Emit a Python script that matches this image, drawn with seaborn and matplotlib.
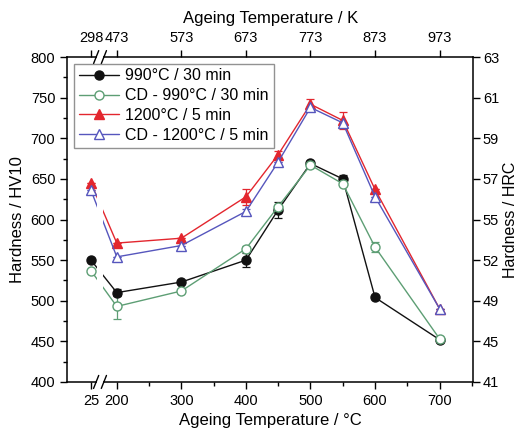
import numpy as np
import pandas as pd
import matplotlib
matplotlib.use('Agg')
import matplotlib.pyplot as plt
import seaborn as sns
from matplotlib.patches import Rectangle
from matplotlib.ticker import MultipleLocator, FixedLocator

# 数据: 时效温度 (°C) 与硬度 (HV10)
temps = [25, 200, 300, 400, 450, 500, 550, 600, 700]
hv_990 = [550, 510, 523, 550, 612, 669, 650, 504, 452]
hv_cd_990 = [537, 493, 512, 564, 616, 667, 644, 566, 453]
hv_1200 = [645, 571, 577, 628, 680, 742, 722, 637, 490]
hv_cd_1200 = [636, 554, 568, 610, 671, 738, 719, 628, 490]

# 误差
err_990 = [0, 4, 0, 9, 10, 3, 5, 0, 0]
err_cd_990 = [0, 15, 0, 3, 0, 3, 0, 6, 0]
err_1200 = [0, 0, 0, 10, 4, 6, 10, 0, 0]
err_cd_1200 = [0, 0, 0, 3, 0, 0, 0, 0, 0]

series_names = ['990°C / 30 min', 'CD - 990°C / 30 min',
                '1200°C / 5 min', 'CD - 1200°C / 5 min']

# 右轴 HRC 和上轴 K 的刻度标签
hv_ticks = [400, 450, 500, 550, 600, 650, 700, 750, 800]
hrc_labels = ['41', '45', '49', '52', '55', '57', '59', '61', '63']
k_temps = [25, 200, 300, 400, 500, 600, 700]
k_labels = ['298', '473', '573', '673', '773', '873', '973']

# 断轴: 25°C 画在 160 的位置
POS_25 = 160
BREAK_LO, BREAK_HI = 168, 180


def to_pos(t):
    return POS_25 if t == 25 else t


sns.set_style('ticks')
plt.rcParams['font.family'] = ['Liberation Sans', 'DejaVu Sans']
for key in ('text.color', 'axes.labelcolor', 'xtick.color', 'ytick.color'):
    plt.rcParams[key] = 'black'

rows = []
for name, vals, errs in zip(series_names, [hv_990, hv_cd_990, hv_1200, hv_cd_1200],
                            [err_990, err_cd_990, err_1200, err_cd_1200]):
    for t, v, e in zip(temps, vals, errs):
        rows.append({'pos': to_pos(t), 'hv': v, 'err': e, 'series': name})
df = pd.DataFrame(rows)

colors = {'990°C / 30 min': '#111111',
          'CD - 990°C / 30 min': '#5d9e74',
          '1200°C / 5 min': '#e3262e',
          'CD - 1200°C / 5 min': '#5656bd'}
markers = {'990°C / 30 min': 'o', 'CD - 990°C / 30 min': 'o',
           '1200°C / 5 min': '^', 'CD - 1200°C / 5 min': '^'}

fig = plt.figure(figsize=(5.2, 4.36), dpi=100)
ax = fig.add_axes([0.129, 0.124, 0.781, 0.745])

for name in series_names:
    sub = df[df['series'] == name]
    c = colors[name]
    hollow = name.startswith('CD')
    ax.errorbar(sub['pos'], sub['hv'], yerr=sub['err'], fmt='none',
                ecolor=c, elinewidth=0.9, capsize=3, capthick=0.9, zorder=2)
    sns.lineplot(data=sub, x='pos', y='hv', ax=ax, color=c, linewidth=1.0,
                 marker=markers[name], markersize=6.5,
                 markerfacecolor='white' if hollow else c,
                 markeredgecolor=c, markeredgewidth=1.0,
                 label=name, sort=False, zorder=3)

ax.set_xlim(123, 752)
ax.set_ylim(400, 800)
ax.xaxis.set_major_locator(FixedLocator([to_pos(t) for t in k_temps]))
ax.set_xticklabels([str(t) for t in [25, 200, 300, 400, 500, 600, 700]])
ax.xaxis.set_minor_locator(FixedLocator([250, 350, 450, 550, 650, 750]))
ax.yaxis.set_major_locator(MultipleLocator(50))
ax.yaxis.set_minor_locator(MultipleLocator(25))
ax.tick_params(which='major', direction='out', length=5, width=1, labelsize=10.5)
ax.tick_params(which='minor', direction='out', length=3, width=1)
ax.set_xlabel('Ageing Temperature / °C', fontsize=12)
ax.set_ylabel('Hardness / HV10', fontsize=12, labelpad=4)
for s in ax.spines.values():
    s.set_visible(True)
    s.set_linewidth(1.1)
    s.set_color('black')

# 上轴 (K)
ax_top = ax.twiny()
ax_top.set_xlim(ax.get_xlim())
ax_top.set_xticks([to_pos(t) for t in k_temps])
ax_top.set_xticklabels(k_labels)
ax_top.tick_params(direction='out', length=5, width=1, labelsize=10.5)
ax_top.set_xlabel('Ageing Temperature / K', fontsize=12, labelpad=6)

# 右轴 (HRC)
ax_right = ax.twinx()
ax_right.set_ylim(ax.get_ylim())
ax_right.set_yticks(hv_ticks)
ax_right.set_yticklabels(hrc_labels)
ax_right.tick_params(direction='out', length=5, width=1, labelsize=10.5, pad=2)
ax_right.set_ylabel('Hardness / HRC', fontsize=11.5, labelpad=3)
for a in (ax_top, ax_right):
    for s in a.spines.values():
        s.set_visible(False)

# 断轴标记
trans = ax.get_xaxis_transform()
ax.add_patch(Rectangle((BREAK_LO + 2, -0.02), BREAK_HI - BREAK_LO - 4, 1.04,
                       transform=trans, facecolor='white', edgecolor='none',
                       zorder=4, clip_on=False))
for xb in (BREAK_LO, BREAK_HI):
    for yb in (0, 1):
        ax.plot([xb - 4, xb + 4], [yb - 0.02, yb + 0.02], transform=trans,
                color='black', linewidth=1.0, clip_on=False, zorder=5)

leg = ax.legend(loc='upper left', bbox_to_anchor=(0.01, 0.99), fontsize=11.5,
                frameon=True, fancybox=False, edgecolor='#777777',
                handlelength=2.5, handletextpad=0.4, borderpad=0.3,
                labelspacing=0.3, borderaxespad=0.2)
leg.get_frame().set_linewidth(1.0)
leg.set_zorder(6)

fig.savefig('out.png', dpi=100)
